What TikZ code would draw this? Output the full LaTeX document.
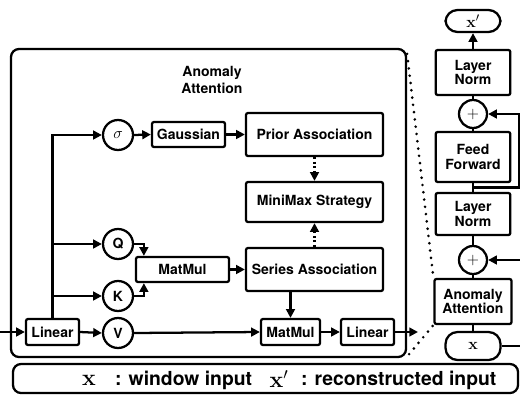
\documentclass[tikz,border=0pt]{standalone}
\usepackage[no-math]{fontspec}
\setmainfont{TeX Gyre Heros}
\usetikzlibrary{arrows.meta,calc}

\tikzset{every picture/.style={line width=1.7pt}}
\tikzset{
  blk/.style={draw, rounded corners=1.5pt, inner sep=0pt, align=center, font=\bfseries\fontsize{10.5}{11}\selectfont},
  crc/.style={draw, circle, inner sep=0pt, minimum size=22.5pt, font=\bfseries\fontsize{10.5}{12}\selectfont},
  term/.style={draw, rounded corners=9pt, inner sep=0pt, minimum width=41.25pt, font=\fontsize{12.5}{14}\selectfont},
  dots/.style={dash pattern=on 0pt off 5.5pt, line cap=round, line width=2.2pt},
  lgd/.style={inner sep=0pt, font=\bfseries\fontsize{14.5}{18}\selectfont},
}

\begin{document}
\begin{tikzpicture}[x=0.75pt,y=0.75pt,yscale=-1,xscale=1,>={Triangle[length=6.5pt,width=6.5pt]}]
\useasboundingbox (0,0) rectangle (520,396);

%Shape: Rounded Rectangle [anomaly attention block]
\node[draw, rounded corners=6pt, minimum width=296.25pt, minimum height=231pt] (bigbox) at (208.5,203) {};
% Text Node
\node[font=\bfseries\fontsize{10.5}{12.75}\selectfont, align=center] (title) at (212,80) {Anomaly\\Attention};

% Nodes inside the block
\node[crc, font=\fontsize{12}{12}\selectfont] (sig) at (118,135) {$\sigma$};
\node[blk, minimum width=54.75pt, minimum height=18.75pt] (gauss) at (188.5,134.5) {Gaussian};
\node[blk, minimum width=102.75pt, minimum height=32.25pt] (prior) at (314.5,134.5) {Prior Association};
\node[blk, minimum width=102.75pt, minimum height=30pt] (minimax) at (314.5,202) {MiniMax Strategy};
\node[blk, minimum width=102.75pt, minimum height=32.25pt] (series) at (314.5,269.5) {Series Association};
\node[crc] (q) at (118,244) {Q};
\node[crc] (k) at (118,296) {K};
\node[crc] (v) at (118,333) {V};
\node[blk, minimum width=69.75pt, minimum height=18.75pt] (mm1) at (182.5,269.5) {MatMul};
\node[blk, minimum width=39.75pt, minimum height=19.5pt] (lin1) at (52.5,332) {Linear};
\node[blk, minimum width=44.25pt, minimum height=19.5pt] (mm2) at (290.5,332) {MatMul};
\node[blk, minimum width=39.75pt, minimum height=19.5pt] (lin2) at (367.5,332) {Linear};
\coordinate (in) at (0,332);
\coordinate (out) at (418,332);

% Arrows inside the block
\draw[->] (in) -- (lin1.west);
\draw[->] (lin1.north) |- (sig.west);
\draw[->] (lin1.north |- q.west) -- (q.west);
\draw[->] (lin1.north |- k.west) -- (k.west);
\draw[->] (lin1.east) -- (v.west);
\draw[->] (sig.east) -- (gauss.west);
\draw[->] (gauss.east) -- (prior.west);
\draw[->] (q.east) -| ($(mm1.north west)+(9,0)$);
\draw[->] (k.east) -| ($(mm1.south west)+(9,0)$);
\draw[->] (mm1.east) -- (series.west);
\draw[->] (v.east) -- (mm2.west);
\draw[->] (series.south -| mm2.north) -- (mm2.north);
\draw[->] (mm2.east) -- (lin2.west);
\draw[->] (lin2.east) -- (out);
\draw[->, dash pattern=on 1.5pt off 2pt, line width=1.8pt] (prior.south) -- (minimax.north);
\draw[->, dash pattern=on 1.5pt off 2pt, line width=1.8pt] (series.north) -- (minimax.south);

% Encoder layer
\node[term, minimum height=16.5pt] (xo) at (473,21) {$\mathbf{x}'$};
\node[blk, minimum width=56pt, minimum height=33.75pt] (ln1) at (473,72.5) {Layer\\Norm};
\node[crc, minimum size=21pt, font=\fontsize{13}{13}\selectfont] (add1) at (473,114) {$+$};
\node[blk, minimum width=56pt, minimum height=37.5pt] (ff) at (473,157) {Feed\\Forward};
\node[blk, minimum width=56pt, minimum height=31.5pt] (ln2) at (473,214) {Layer\\Norm};
\node[crc, minimum size=21pt, font=\fontsize{13}{13}\selectfont] (add2) at (473,260) {$+$};
\node[blk, minimum width=57.75pt, minimum height=33.75pt] (aa) at (473,301.5) {Anomaly\\Attention};
\node[term, minimum height=21pt] (xi) at (473,346) {$\mathbf{x}$};
\coordinate (r1) at ($(ff.south)!0.5!(ln2.north)$);

\draw (xi) -- (aa);
\draw (aa) -- (add2);
\draw (add2) -- (ln2);
\draw (ln2) -- (ff);
\draw (ff) -- (add1);
\draw (add1) -- (ln1);
\draw[->] (ln1) -- (xo);
\draw[->] (xi.east) -- ++(19,0) |- (add2.east);
\draw[->] (r1) -- ++(46,0) |- (add1.east);

% Dotted zoom lines
\draw[dots] ($(bigbox.north east)+(0,6)$) -- (aa.north west);
\draw[dots] ($(bigbox.south east)+(2,-4)$) -- (aa.south west);

% Legend
\node[draw, rounded corners=6pt, minimum width=378.75pt, minimum height=21.75pt] (legend) at (265.5,378.5) {};
\node[inner sep=0pt, font=\fontsize{17}{18}\selectfont] (lx) at (89,380) {$\mathbf{x}$};
\node[lgd, anchor=west] (lxt) at (114,380) {: window input};
\node[inner sep=0pt, font=\fontsize{17}{18}\selectfont] (lxo) at (279,379) {$\mathbf{x}'$};
\node[lgd, anchor=west] (lxot) at (300,380) {: reconstructed input};

\end{tikzpicture}
\end{document}
